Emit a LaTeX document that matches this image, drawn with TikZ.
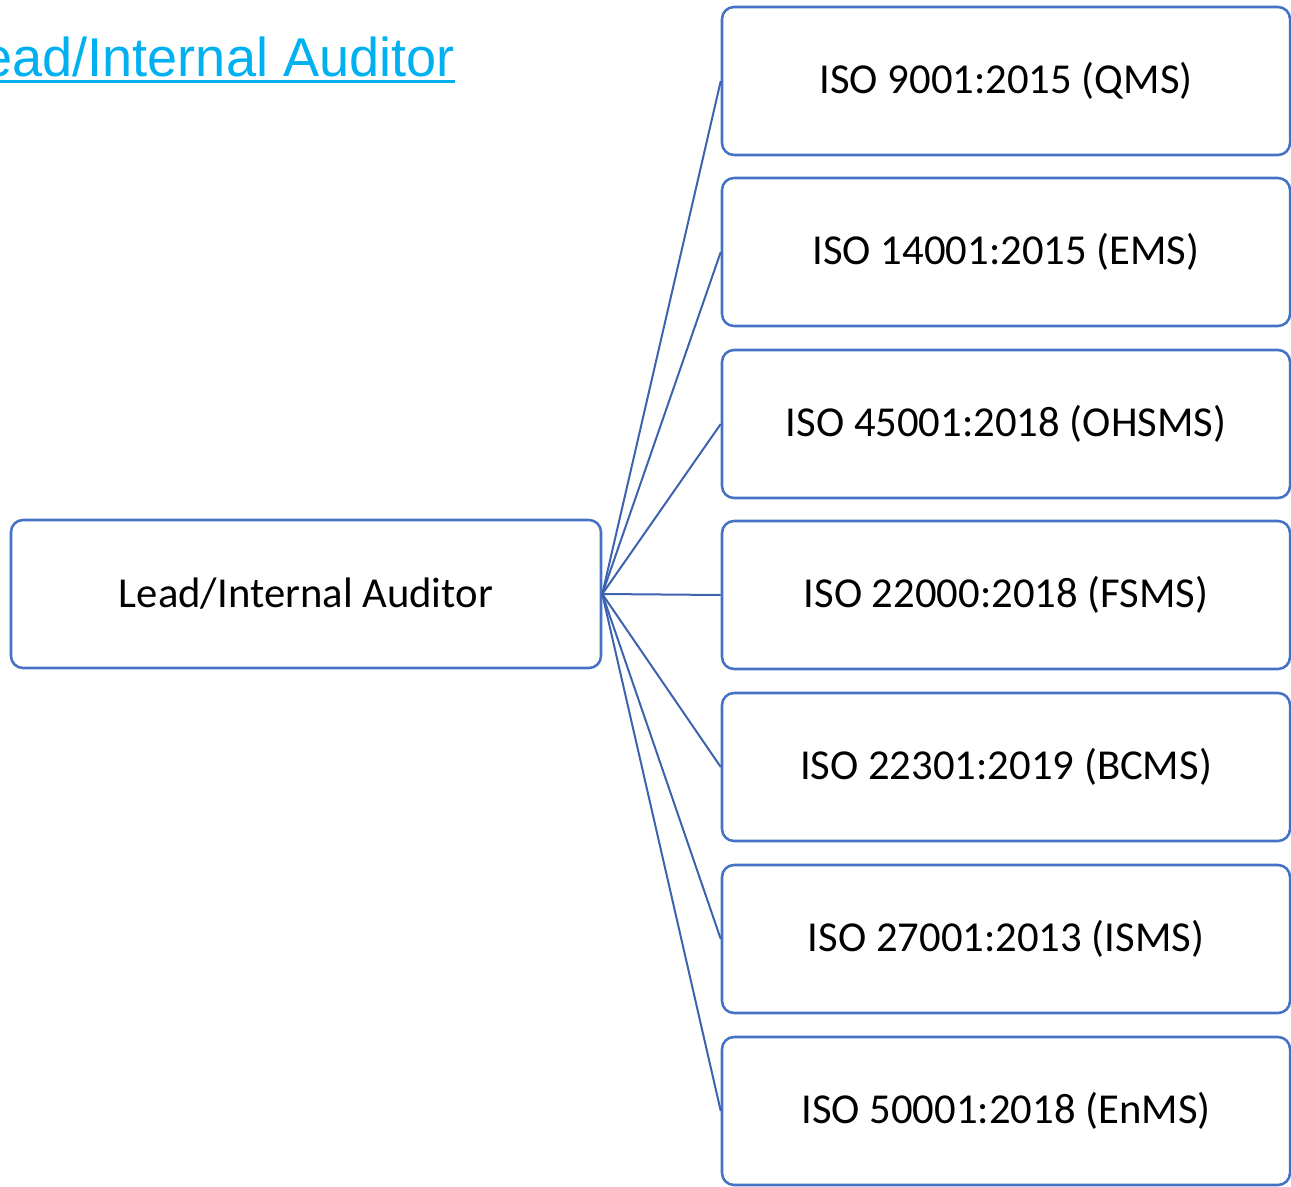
\documentclass[tikz,border=0pt]{standalone}
\usepackage{fontspec}
\setmainfont{Carlito}
\newfontfamily\titlefont[FakeStretch=0.99]{Liberation Sans}
\definecolor{boxblue}{HTML}{4472C4}
\definecolor{lineblue}{HTML}{3E63AE}
\definecolor{linkcyan}{HTML}{00B0F0}
\tikzset{
	isobox/.style={draw=boxblue, line width=1.9pt, rounded corners=9pt, minimum width=426pt, minimum height=111pt, inner sep=0pt, font=\fontsize{32}{38}\selectfont},
	link/.style={draw=lineblue, line width=1.5pt}}

\begin{document}
\begin{tikzpicture}[x=0.75pt, y=-0.75pt]
\useasboundingbox (0,0) rectangle (1291,1187);
\node[anchor=base east, text=linkcyan, inner sep=0pt, font=\titlefont\fontsize{41}{50}\selectfont] (title) at (455,77) {Lead/Internal Auditor};
\draw[linkcyan, line width=2.2pt] ([yshift=-3.6pt]title.base west) -- ([yshift=-3.6pt]title.base east); % underline
\node[isobox, minimum width=442.5pt] (aud) at (306,594) {Lead/Internal Auditor};
\node[isobox] (qms) at (1006,81) {ISO 9001:2015 (QMS)};
\node[isobox] (ems) at (1006,252) {ISO 14001:2015 (EMS)};
\node[isobox] (ohsms) at (1006,424) {ISO 45001:2018 (OHSMS)};
\node[isobox] (fsms) at (1006,595) {ISO 22000:2018 (FSMS)};
\node[isobox] (bcms) at (1006,767) {ISO 22301:2019 (BCMS)};
\node[isobox] (isms) at (1006,939) {ISO 27001:2013 (ISMS)};
\node[isobox] (enms) at (1006,1111) {ISO 50001:2018 (EnMS)};
\draw[link] (aud.east) -- (qms.west);
\draw[link] (aud.east) -- (ems.west);
\draw[link] (aud.east) -- (ohsms.west);
\draw[link] (aud.east) -- (fsms.west);
\draw[link] (aud.east) -- (bcms.west);
\draw[link] (aud.east) -- (isms.west);
\draw[link] (aud.east) -- (enms.west);
\end{tikzpicture}
\end{document}
